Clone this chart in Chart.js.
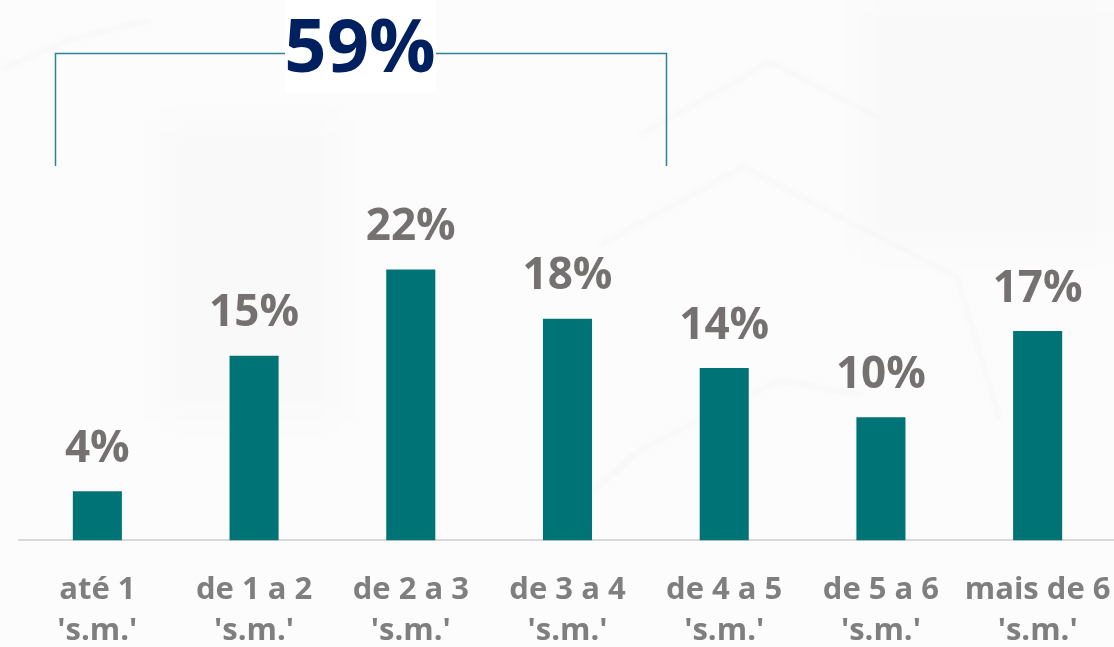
<!DOCTYPE html>
<html>
<head>
<meta charset="utf-8">
<script src="https://cdn.jsdelivr.net/npm/chart.js@4.4.1/dist/chart.umd.min.js"></script>
<style>
  html, body { margin: 0; padding: 0; overflow: hidden; background: #fcfcfc; }
  #wrap { position: relative; width: 1114px; height: 647px; overflow: hidden; }
  #c { position: absolute; left: 0; top: 0; }
</style>
</head>
<body>
<div id="wrap"><canvas id="c" width="1120" height="681"></canvas></div>
<script>
// Income bands (in minimum wages) and share of respondents in each
const categories = [
  ["até 1", "'s.m.'"],
  ["de 1 a 2", "'s.m.'"],
  ["de 2 a 3", "'s.m.'"],
  ["de 3 a 4", "'s.m.'"],
  ["de 4 a 5", "'s.m.'"],
  ["de 5 a 6", "'s.m.'"],
  ["mais de 6", "'s.m.'"]
];
const shares = [4, 15, 22, 18, 14, 10, 17];
const bracketLabel = "59%";   // sum of the first four bands
const bracketFrom = 0;        // first band covered by the bracket
const bracketTo = 3;          // last band covered by the bracket

const FONT = "'Open Sans', 'DejaVu Sans', sans-serif";

// Soft hexagon texture behind the chart
const backdrop = {
  id: 'backdrop',
  beforeDraw(chart) {
    const ctx = chart.ctx;
    ctx.save();
    ctx.filter = 'blur(2px)';
    ctx.strokeStyle = 'rgba(0,0,0,0.02)';
    ctx.lineWidth = 5;
    ctx.lineJoin = 'round';
    const paths = [
      [[600, 245], [743, 167], [957, 277], [1000, 420]],
      [[640, 135], [770, 62], [880, 118]],
      [[560, 520], [640, 450], [780, 380], [860, 395]],
      [[0, 70], [70, 40], [150, 20]]
    ];
    paths.forEach(p => {
      ctx.beginPath();
      ctx.moveTo(p[0][0], p[0][1]);
      for (let i = 1; i < p.length; i++) ctx.lineTo(p[i][0], p[i][1]);
      ctx.stroke();
    });
    ctx.filter = 'blur(18px)';
    ctx.fillStyle = 'rgba(0,0,0,0.01)';
    ctx.fillRect(160, 120, 180, 300);
    ctx.fillRect(860, 0, 254, 250);
    ctx.restore();
  }
};

// Percentage labels above each bar
const valueLabels = {
  id: 'valueLabels',
  afterDatasetsDraw(chart) {
    const ctx = chart.ctx;
    const meta = chart.getDatasetMeta(0);
    ctx.save();
    ctx.font = "bold 44px " + FONT;
    ctx.fillStyle = '#767171';
    ctx.textAlign = 'center';
    ctx.textBaseline = 'middle';
    meta.data.forEach((bar, i) => {
      ctx.fillText(shares[i] + '%', bar.x, bar.y - 42);
    });
    ctx.restore();
  }
};

// Bracket grouping the lower income bands with its total on top
const groupBracket = {
  id: 'groupBracket',
  afterDraw(chart) {
    const ctx = chart.ctx;
    const xs = chart.scales.x;
    const step = xs.getPixelForValue(1) - xs.getPixelForValue(0);
    const x0 = Math.round(xs.getPixelForValue(bracketFrom) - step * 0.27) + 0.5;
    const x1 = Math.round(xs.getPixelForValue(bracketTo) + step * 0.63) + 0.5;
    const yTop = 53.5, yBot = 166;
    ctx.save();
    ctx.strokeStyle = '#2A8399';
    ctx.lineWidth = 1.5;
    ctx.beginPath();
    ctx.moveTo(x0, yBot);
    ctx.lineTo(x0, yTop);
    ctx.lineTo(x1, yTop);
    ctx.lineTo(x1, yBot);
    ctx.stroke();
    const cx = 360;
    ctx.fillStyle = '#ffffff';
    ctx.fillRect(cx - 75, 0, 151, 93);
    ctx.font = "bold 74px " + FONT;
    ctx.fillStyle = '#002060';
    ctx.textAlign = 'center';
    ctx.textBaseline = 'alphabetic';
    ctx.fillText(bracketLabel, cx, 72);
    ctx.restore();
  }
};

new Chart(document.getElementById('c'), {
  type: 'bar',
  data: {
    labels: categories,
    datasets: [{
      data: shares,
      backgroundColor: '#007377',
      borderWidth: 0,
      barPercentage: 0.313,
      categoryPercentage: 1
    }]
  },
  options: {
    responsive: false,
    animation: false,
    events: [],
    layout: { padding: { top: 171, left: 19, right: 4, bottom: 0 } },
    plugins: { legend: { display: false }, tooltip: { enabled: false } },
    scales: {
      y: { display: false, min: 0, max: 30 },
      x: {
        grid: { display: false, drawTicks: false },
        border: { display: true, color: '#d9d9d9', width: 2 },
        afterFit(scale) { scale.paddingLeft = 0; scale.paddingRight = 0; },
        ticks: {
          autoSkip: false,
          maxRotation: 0,
          padding: 30,
          color: '#7f7f7f',
          font: { family: FONT, size: 31, weight: 'bold', lineHeight: 1.3 }
        }
      }
    }
  },
  plugins: [backdrop, valueLabels, groupBracket]
});
</script>
</body>
</html>
